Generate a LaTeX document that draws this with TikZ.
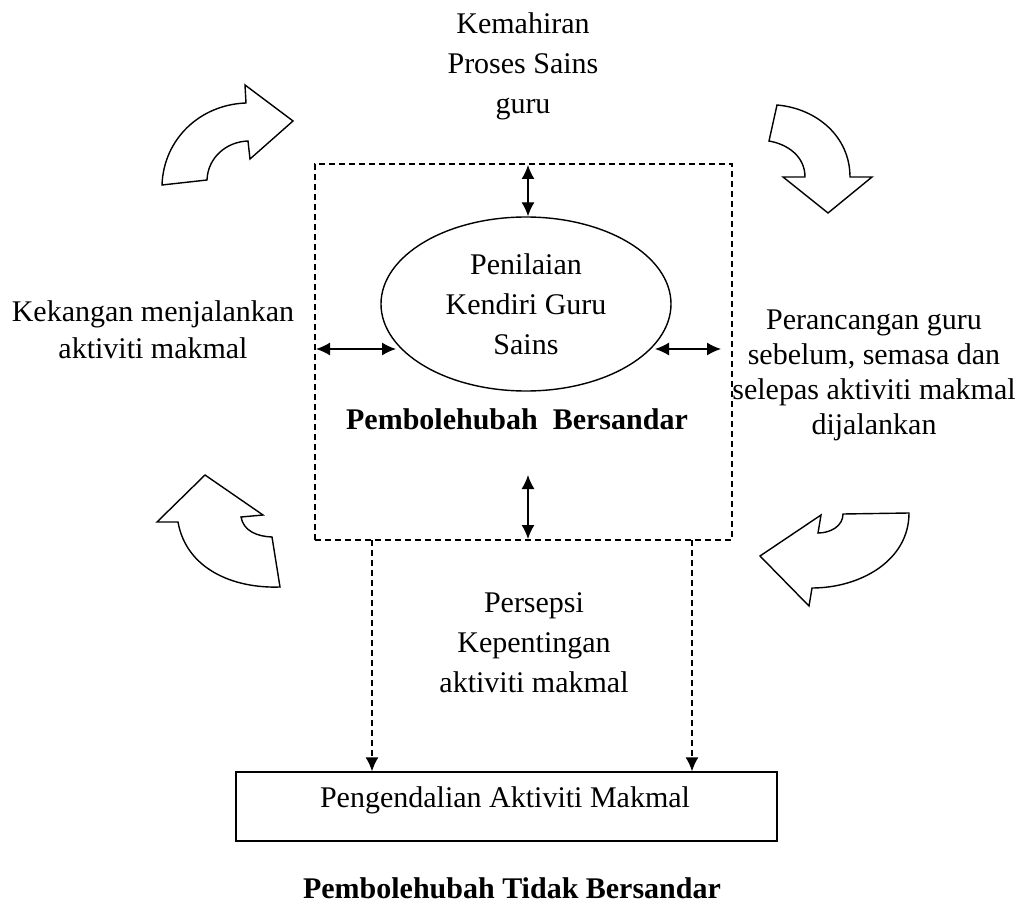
\documentclass[tikz,border=0pt]{standalone}
\usepackage{fontspec}
\setmainfont{Liberation Serif}
\usetikzlibrary{shapes.geometric,arrows.meta}
\begin{document}
\begin{tikzpicture}[x=1pt,y=-1pt,
  txt/.style={font=\fontsize{30}{40}\selectfont, align=center, inner sep=0pt},
  btxt/.style={font=\fontsize{30}{40}\selectfont\bfseries, align=center, inner sep=0pt},
  dbl/.style={line width=1.4pt, {Latex[length=14pt,width=13pt]}-{Latex[length=14pt,width=13pt]}},
  dsh/.style={line width=1.4pt, dash pattern=on 6pt off 4pt},
  dshar/.style={dsh, -{Latex[length=14pt,width=13pt]}},
  curv/.style={line width=1.4pt, line join=miter, fill=white}]
\useasboundingbox (0,0) rectangle (1021,923);
% texts
\node[txt] (kps) at (523,66) {Kemahiran\\Proses Sains\\guru};
\node[txt, font=\fontsize{30}{37}\selectfont] (kek) at (153,330) {Kekangan menjalankan\\aktiviti makmal};
\node[txt, font=\fontsize{30}{35}\selectfont] (per) at (874,375) {Perancangan guru\\sebelum, semasa dan\\selepas aktiviti makmal\\dijalankan};
\node[txt] (pkp) at (534,643) {Persepsi\\Kepentingan\\aktiviti makmal};
% dashed box
\node[draw, dsh, minimum width=417pt, minimum height=376pt, inner sep=0pt] (box) at (523.5,352) {};
% ellipse
\node[draw, ellipse, line width=1.4pt, minimum width=290pt, minimum height=174pt, inner sep=0pt, txt] (ell) at (526,304) {Penilaian\\Kendiri Guru\\Sains};
\node[btxt] (pb) at (517,419) {Pembolehubah\ \ Bersandar};
% rectangle
\node[draw, line width=1.4pt, minimum width=541pt, minimum height=69pt, inner sep=0pt] (rect) at (506.5,806.5) {};
\node[txt] (rtxt) at (505,800) {Pengendalian Aktiviti Makmal};
\node[btxt] (pt) at (512,888) {Pembolehubah Tidak Bersandar};
% double arrows
\coordinate (tA) at (528,165);
\draw[dbl] (tA) -- (ell.north -| tA);
\coordinate (lA) at (316,349);
\coordinate (lB) at (396,349);
\draw[dbl] (lA) -- (lB);
\coordinate (rA) at (655,349);
\coordinate (rB) at (721,349);
\draw[dbl] (rA) -- (rB);
\coordinate (bA) at (528,475);
\coordinate (bB) at (528,539);
\draw[dbl] (bA) -- (bB);
% dashed down arrows
\coordinate (d1) at (372,540);
\coordinate (d2) at (692,540);
\draw[dshar] (d1) -- (d1 |- rect.north);
\draw[dshar] (d2) -- (d2 |- rect.north);
% curved block arrows
% upper left
\draw[curv] (162,185) to[out=88,in=182] (246,103) -- (245,85) -- (293,121) -- (250,159) -- (248,141) to[out=182,in=88] (207,180) -- cycle;
% upper right
\draw[curv] (777,105) to[out=-5,in=90] (850,177) -- (872,177) -- (828,213) -- (783,177) -- (805,177) to[out=90,in=-10] (769,141) -- cycle;
% lower right
\draw[curv] (760,556) -- (821,515) -- (818,533) to[out=0,in=-90] (843,514) -- (909,513) to[out=-90,in=0] (812,588) -- (809,606) -- cycle;
% lower left
\draw[curv] (205,475) -- (263,515) -- (241,517) to[out=-80,in=178] (272,537) -- (280,587) to[out=182,in=-80] (178,522) -- (157,522) -- cycle;
\end{tikzpicture}
\end{document}
